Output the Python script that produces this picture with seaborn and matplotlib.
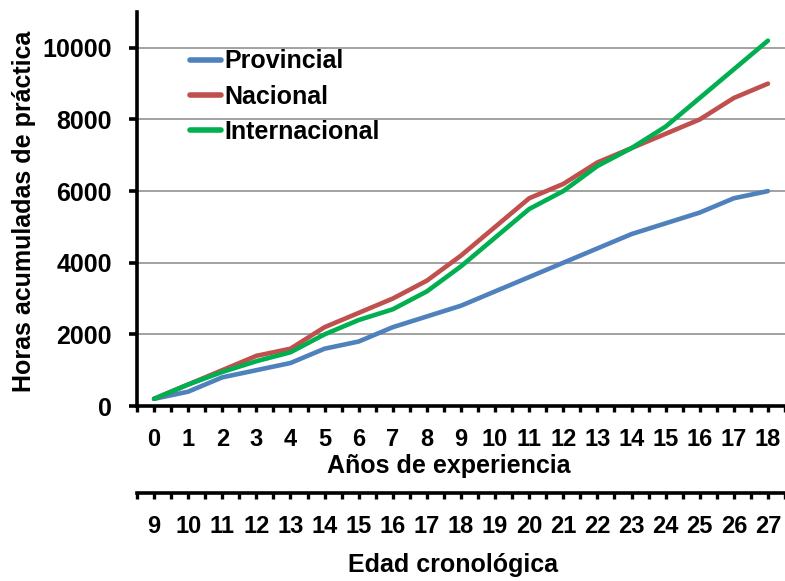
import matplotlib
matplotlib.use("Agg")
import matplotlib.pyplot as plt
import seaborn as sns
import pandas as pd
import numpy as np

# Years of experience (x axis) and chronological age (secondary axis)
years = list(range(0, 19))
ages = list(range(9, 28))

# Accumulated practice hours per competitive level
provincial = [200, 400, 800, 1000, 1200, 1600, 1800, 2200, 2500, 2800,
              3200, 3600, 4000, 4400, 4800, 5100, 5400, 5800, 6000]
nacional = [200, 600, 1000, 1400, 1600, 2200, 2600, 3000, 3500, 4200,
            5000, 5800, 6200, 6800, 7200, 7600, 8000, 8600, 9000]
internacional = [200, 600, 950, 1250, 1500, 2000, 2400, 2700, 3200, 3900,
                 4700, 5500, 6000, 6700, 7200, 7800, 8600, 9400, 10200]

levels = ["Provincial", "Nacional", "Internacional"]
colors = ["#4F81BD", "#C0504D", "#00B050"]

df = pd.DataFrame({
    "year": years * 3,
    "hours": provincial + nacional + internacional,
    "level": [lv for lv in levels for _ in years],
})

sns.set_style("white")
plt.rcParams["font.family"] = ["Liberation Sans", "DejaVu Sans"]
plt.rcParams["font.weight"] = "bold"
plt.rcParams["text.color"] = "black"
plt.rcParams["axes.edgecolor"] = "black"
plt.rcParams["xtick.color"] = "black"
plt.rcParams["ytick.color"] = "black"
plt.rcParams["xtick.labelcolor"] = "black"
plt.rcParams["ytick.labelcolor"] = "black"

W, H = 785, 581
fig = plt.figure(figsize=(W / 100, H / 100), dpi=100)

left, right, top, bottom = 137, 785, 12, 406
ax = fig.add_axes([left / W, (H - bottom) / H, (right - left) / W, (bottom - top) / H])

sns.lineplot(data=df, x="year", y="hours", hue="level", hue_order=levels,
             palette=colors, linewidth=3.3, ax=ax, solid_capstyle="round")

ax.set_xlim(-0.5, 18.5)
ax.set_ylim(0, 11000)
ax.set_yticks([0, 2000, 4000, 6000, 8000, 10000])
ax.yaxis.grid(True, color="#9a9a9a", linewidth=1.3)
ax.xaxis.grid(False)
ax.set_axisbelow(True)

for s in ["top", "right"]:
    ax.spines[s].set_visible(False)
for s in ["left", "bottom"]:
    ax.spines[s].set_linewidth(2.6)
    ax.spines[s].set_color("black")

ax.set_xticks(years)
ax.set_xticklabels([str(v) for v in years])
ax.set_xticks(np.arange(-0.5, 18.6, 1.0), minor=True)
ax.tick_params(axis="x", which="both", bottom=True, direction="out", length=4.5,
               width=2.4, color="black", pad=11, labelsize=17, labelcolor="black")
ax.tick_params(axis="y", left=True, direction="out", length=6, width=2.6,
               color="black", pad=12, labelsize=18, labelcolor="black")
for lab in ax.get_xticklabels() + ax.get_yticklabels():
    lab.set_fontweight("bold")
ax.set_xlabel("")
ax.set_ylabel("")

leg = ax.legend(loc="upper left", bbox_to_anchor=(0.082, 0.905), frameon=False,
                borderpad=0, borderaxespad=0, handlelength=1.25, handletextpad=0.1,
                labelspacing=0.45, prop={"size": 18, "weight": "bold"})
for line in leg.get_lines():
    line.set_linewidth(4)
    line.set_solid_capstyle("round")
for t in leg.get_texts():
    t.set_color("black")

# Secondary axis with chronological age
spine2 = 493
ax2 = fig.add_axes([left / W, (H - spine2) / H, (right - left) / W, 1e-4])
ax2.set_xlim(-0.5, 18.5)
ax2.set_yticks([])
for s in ["top", "right", "left"]:
    ax2.spines[s].set_visible(False)
ax2.spines["bottom"].set_linewidth(2.6)
ax2.spines["bottom"].set_color("black")
ax2.patch.set_alpha(0)
ax2.set_xticks(years)
ax2.set_xticklabels([str(a) for a in ages])
ax2.set_xticks(np.arange(-0.5, 18.6, 1.0), minor=True)
ax2.tick_params(axis="x", which="both", bottom=True, direction="out", length=4.5,
                width=2.4, color="black", pad=11, labelsize=17, labelcolor="black")
for lab in ax2.get_xticklabels():
    lab.set_fontweight("bold")

fig.text(449 / W, (H - 466) / H, "Años de experiencia", ha="center", va="center",
         fontsize=18, fontweight="bold", color="black")
fig.text(453 / W, (H - 565) / H, "Edad cronológica", ha="center", va="center",
         fontsize=18, fontweight="bold", color="black")
fig.text(24 / W, (H - 211) / H, "Horas acumuladas de práctica", ha="center",
         va="center", rotation=90, fontsize=18, fontweight="bold", color="black")

fig.savefig("out.png", dpi=100)
